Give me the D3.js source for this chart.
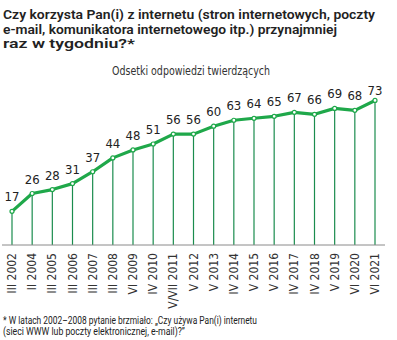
<!DOCTYPE html>
<html><head><meta charset="utf-8">
<script src="https://cdn.jsdelivr.net/npm/d3@7"></script>
<style>
html,body{margin:0;padding:0;background:#fff;}
svg{display:block;}
text{font-family:"Liberation Sans Narrow","DejaVu Sans Condensed",Roboto,sans-serif;}
</style></head>
<body>
<svg id="chart" width="397" height="340"></svg>
<script>
const categories = ["III 2002","II 2004","III 2005","III 2006","III 2007","III 2008","VI 2009","IV 2010","V/VII 2011","V 2012","V 2013","IV 2014","V 2015","V 2016","IV 2017","IV 2018","V 2019","VI 2020","VI 2021"];
const values = [17,26,28,31,37,44,48,51,56,56,60,63,64,65,67,66,69,68,73];
const titleLines = ["Czy korzysta Pan(i) z internetu (stron internetowych, poczty","e-mail, komunikatora internetowego itp.) przynajmniej","raz w tygodniu?*"];
const subtitle = "Odsetki odpowiedzi twierdzących";
const footLines = ["* W latach  2002–2008 pytanie brzmiało: „Czy używa Pan(i) internetu","(sieci WWW lub poczty elektronicznej, e-mail)?”"];

const svg = d3.select("#chart");
const x = d3.scalePoint().domain(categories).range([12, 375]);
const y = d3.scaleLinear().domain([0, 100]).range([245, 47]);
const green = "#1fa84a";
const dark = "#1a8c4e";

// title
const titleLens = [372, 334, 132];
svg.append("g").selectAll("text").data(titleLines).join("text")
  .attr("x", 3).attr("y", (d,i) => 19 + i*14.5)
  .attr("textLength", (d,i) => titleLens[i]).attr("lengthAdjust","spacingAndGlyphs")
  .style("font-family","Roboto, sans-serif").style("font-weight","600").style("font-size","13px")
  .attr("fill","#222").text(d => d);

svg.append("text").attr("x", 191).attr("y", 75).attr("text-anchor","middle")
  .attr("textLength", 158).attr("lengthAdjust","spacingAndGlyphs")
  .style("font-size","11.5px").attr("fill","#333").text(subtitle);

// drop lines
svg.append("g").selectAll("line").data(values).join("line")
  .attr("x1", (d,i) => x(categories[i])).attr("x2", (d,i) => x(categories[i]))
  .attr("y1", d => y(d)).attr("y2", y(0))
  .attr("stroke", dark).attr("stroke-width", 1.2);

// baseline axis
const axis = d3.axisBottom(x).tickSize(0).tickFormat("");
const ag = svg.append("g").attr("transform", `translate(0,${y(0)})`).call(axis);
ag.select(".domain").attr("d", "M2,0H385").attr("stroke", "#8a8a8a").attr("stroke-width", 1);

// category labels
svg.append("g").selectAll("text").data(categories).join("text")
  .attr("transform", d => `translate(${x(d)+4},253) rotate(-90)`)
  .attr("text-anchor","end")
  .style("font-size","12px").attr("fill","#333").text(d => d);

// line
const line = d3.line().x((d,i) => x(categories[i])).y(d => y(d));
svg.append("path").datum(values).attr("d", line)
  .attr("fill","none").attr("stroke", green).attr("stroke-width", 3.2).attr("stroke-linejoin","round");

// markers
svg.append("g").selectAll("circle").data(values).join("circle")
  .attr("cx", (d,i) => x(categories[i])).attr("cy", d => y(d)).attr("r", 2)
  .attr("fill","#fff").attr("stroke", green).attr("stroke-width", 1.2);

// value labels
svg.append("g").selectAll("text").data(values).join("text")
  .attr("x", (d,i) => x(categories[i])).attr("y", d => Math.max(y(d) - 10, 95))
  .attr("text-anchor","middle")
  .style("font-size","13px").attr("fill","#222").text(d => d);

// footnote
const footLens = [254, 182];
svg.append("g").selectAll("text").data(footLines).join("text")
  .attr("x", 3).attr("y", (d,i) => 324 + i*11)
  .attr("textLength", (d,i) => footLens[i]).attr("lengthAdjust","spacingAndGlyphs")
  .style("font-family","Roboto, sans-serif").style("font-size","10px")
  .attr("fill","#222").text(d => d);
</script>
</body></html>
